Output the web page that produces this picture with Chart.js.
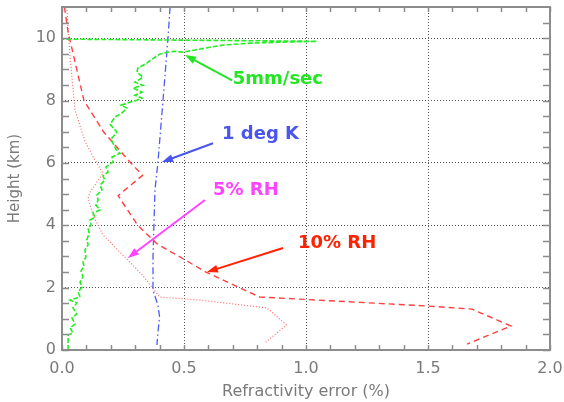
<!DOCTYPE html>
<html>
<head>
<meta charset="utf-8">
<script src="https://cdn.jsdelivr.net/npm/chart.js@4"></script>
<style>
  body { margin: 0; background: #fff; }
  #box { width: 564px; height: 402px; }
</style>
</head>
<body>
<div id="box"><canvas id="grafico" width="564" height="402"></canvas></div>
<script>
// 5mm/sec (verde)
const verde_x = [0.025, 0.025, 0.045, 0.033, 0.053, 0.041, 0.061, 0.045, 0.061, 0.033, 0.074, 0.066, 0.082, 0.074, 0.086, 0.078,
  0.090, 0.086, 0.098, 0.094, 0.107, 0.102, 0.111, 0.107, 0.119, 0.115, 0.135, 0.127, 0.156, 0.139, 0.148, 0.143,
  0.164, 0.156, 0.176, 0.168, 0.189, 0.180, 0.209, 0.205, 0.238, 0.221, 0.209, 0.201, 0.225, 0.197, 0.217, 0.246,
  0.266, 0.242, 0.279, 0.307, 0.328, 0.299, 0.328, 0.291, 0.332, 0.299, 0.332, 0.307, 0.311, 0.348, 0.361, 0.381,
  0.402, 0.430, 0.463, 0.496, 0.545, 0.607, 0.660, 0.770, 0.893, 1.045, 0.004]
const verde_y = [0.00, 0.48, 0.54, 0.71, 0.83, 1.03, 1.15, 1.35, 1.51, 1.60, 1.70, 1.86, 2.02, 2.18, 2.34, 2.53,
  2.69, 2.82, 2.98, 3.21, 3.37, 3.53, 3.75, 3.91, 4.01, 4.17, 4.26, 4.39, 4.49, 4.65, 4.81, 4.97,
  5.13, 5.29, 5.45, 5.58, 5.71, 5.87, 6.03, 6.19, 6.31, 6.44, 6.63, 6.76, 6.99, 7.24, 7.47, 7.60,
  7.76, 7.85, 7.95, 8.01, 8.08, 8.17, 8.27, 8.40, 8.49, 8.59, 8.75, 8.91, 9.04, 9.20, 9.29, 9.39,
  9.49, 9.55, 9.58, 9.55, 9.62, 9.71, 9.78, 9.84, 9.87, 9.90, 9.97]

// 10% RH (vermelho tracejado)
const rh10_x = [0.01, 0.025, 0.09, 0.17, 0.27, 0.33, 0.23, 0.31, 0.39, 0.48, 0.59, 0.81, 1.50, 1.68, 1.84, 1.66]
const rh10_y = [11.0, 10.2, 8.0, 7.0, 6.1, 5.6, 4.95, 4.0, 3.4, 3.0, 2.5, 1.7, 1.41, 1.31, 0.77, 0.19]

// 5% RH (vermelho pontilhado)
const rh5_x = [0.02, 0.025, 0.033, 0.053, 0.094, 0.127, 0.168, 0.115, 0.107, 0.127, 0.168, 0.25, 0.33, 0.40, 0.566, 0.84, 0.92, 0.83]
const rh5_y = [11.0, 10.3, 9.4, 7.7, 6.7, 6.2, 5.67, 5.06, 4.87, 4.33, 3.69, 3.04, 2.40, 1.70, 1.60, 1.35, 0.80, 0.22]

// 1 deg K (azul)
const temp_x = [0.443, 0.434, 0.414, 0.393, 0.381, 0.373, 0.373, 0.393, 0.40, 0.393, 0.389]
const temp_y = [11.0, 9.97, 8.01, 6.0, 5.13, 3.0, 1.92, 1.44, 1.06, 0.55, 0.16]

const x_ticks = [0, 0.5, 1.0, 1.5, 2.0]
const x_menores = [0.1, 0.2, 0.3, 0.4, 0.6, 0.7, 0.8, 0.9, 1.1, 1.2, 1.3, 1.4, 1.6, 1.7, 1.8, 1.9]
const y_ticks = [0, 2, 4, 6, 8, 10]
const y_menores = [0.5, 1, 1.5, 2.5, 3, 3.5, 4.5, 5, 5.5, 6.5, 7, 7.5, 8.5, 9, 9.5, 10.5]

// anotações: texto, posição do texto, ponta e cauda da seta (em unidades dos eixos)
const anotacoes = [
  { texto: '5mm/sec', cor: '#22e622', tx: 0.70, ty: 8.69, de: [0.697, 8.65], para: [0.504, 9.46] },
  { texto: '1 deg K', cor: '#4a55f0', tx: 0.656, ty: 6.92, de: [0.619, 6.63], para: [0.41, 6.03] },
  { texto: '5% RH', cor: '#ff44ff', tx: 0.619, ty: 5.13, de: [0.586, 4.81], para: [0.27, 2.95] },
  { texto: '10% RH', cor: '#ff2200', tx: 0.967, ty: 3.43, de: [0.906, 3.27], para: [0.594, 2.50] }
]

function pontos(xs, ys) {
  return xs.map((x, i) => ({ x: x, y: ys[i] }))
}

const moldura = {
  id: 'moldura',
  afterDatasetsDraw(chart) {
    const ctx = chart.ctx
    const a = chart.chartArea
    const sx = chart.scales.x
    const sy = chart.scales.y
    ctx.save()
    ctx.strokeStyle = '#8c8c8c'
    ctx.lineWidth = 2
    ctx.strokeRect(a.left, a.top, a.right - a.left, a.bottom - a.top)

    ctx.lineWidth = 1.5
    ctx.beginPath()
    x_menores.concat(x_ticks).forEach(v => {
      const px = Math.round(sx.getPixelForValue(v)) + 0.5
      ctx.moveTo(px, a.bottom); ctx.lineTo(px, a.bottom - 5)
      ctx.moveTo(px, a.top); ctx.lineTo(px, a.top + 5)
    })
    y_menores.concat(y_ticks).forEach(v => {
      const py = Math.round(sy.getPixelForValue(v)) + 0.5
      ctx.moveTo(a.left, py); ctx.lineTo(a.left + 7, py)
      ctx.moveTo(a.right, py); ctx.lineTo(a.right - 7, py)
    })
    ctx.stroke()

    anotacoes.forEach(n => {
      const x0 = sx.getPixelForValue(n.de[0]), y0 = sy.getPixelForValue(n.de[1])
      const x1 = sx.getPixelForValue(n.para[0]), y1 = sy.getPixelForValue(n.para[1])
      const ang = Math.atan2(y1 - y0, x1 - x0)
      ctx.strokeStyle = n.cor
      ctx.fillStyle = n.cor
      ctx.lineWidth = 2
      ctx.setLineDash([])
      ctx.beginPath()
      ctx.moveTo(x0, y0)
      ctx.lineTo(x1 - 8 * Math.cos(ang), y1 - 8 * Math.sin(ang))
      ctx.stroke()
      ctx.beginPath()
      ctx.moveTo(x1, y1)
      ctx.lineTo(x1 - 11 * Math.cos(ang) + 4 * Math.sin(ang), y1 - 11 * Math.sin(ang) - 4 * Math.cos(ang))
      ctx.lineTo(x1 - 11 * Math.cos(ang) - 4 * Math.sin(ang), y1 - 11 * Math.sin(ang) + 4 * Math.cos(ang))
      ctx.closePath()
      ctx.fill()

      ctx.font = 'bold 18px "DejaVu Sans"'
      ctx.textAlign = 'left'
      ctx.textBaseline = 'middle'
      ctx.fillText(n.texto, sx.getPixelForValue(n.tx), sy.getPixelForValue(n.ty))
    })
    ctx.restore()
  }
}

function corGrade(ctx) {
  const v = ctx.tick.value
  return (v === 0 || v === 2 && ctx.scale.id === 'x') ? 'rgba(0,0,0,0)' : '#555'
}

const config = {
  type: 'scatter',
  data: {
    datasets: [
      { label: '5mm/sec', data: pontos(verde_x, verde_y), borderColor: '#22ee22', borderWidth: 1.6, borderDash: [5, 2] },
      { label: '10% RH', data: pontos(rh10_x, rh10_y), borderColor: '#ff4040', borderWidth: 1.4, borderDash: [6, 4] },
      { label: '5% RH', data: pontos(rh5_x, rh5_y), borderColor: '#ff6a6a', borderWidth: 1.2, borderDash: [1, 2] },
      { label: '1 deg K', data: pontos(temp_x, temp_y), borderColor: '#4d5cf5', borderWidth: 1.3, borderDash: [7, 3, 1.5, 3] }
    ].map(d => Object.assign(d, { showLine: true, pointRadius: 0, fill: false, tension: 0 }))
  },
  options: {
    responsive: false,
    animation: false,
    layout: { padding: { top: 7, right: 14, left: 0, bottom: 0 } },
    plugins: { legend: { display: false }, tooltip: { enabled: false } },
    scales: {
      x: {
        type: 'linear', min: 0, max: 2,
        afterBuildTicks: s => { s.ticks = x_ticks.map(v => ({ value: v })) },
        afterFit: s => { s.height = 52; s.paddingLeft = 0; s.paddingRight = 0 },
        grid: { color: corGrade, drawTicks: false, lineWidth: 1 },
        border: { display: false, dash: [1, 2] },
        ticks: { padding: 9, maxRotation: 0, autoSkip: false, color: '#7a7a7a',
          font: { family: 'DejaVu Sans', size: 16 }, callback: v => v.toFixed(1) },
        title: { display: true, text: 'Refractivity error (%)', color: '#7a7a7a',
          font: { family: 'DejaVu Sans', size: 16 }, padding: { top: 1, bottom: 1 } }
      },
      y: {
        type: 'linear', min: 0, max: 11,
        afterBuildTicks: s => { s.ticks = y_ticks.map(v => ({ value: v })) },
        afterFit: s => { s.width = 62; s.paddingTop = 0; s.paddingBottom = 0 },
        grid: { color: corGrade, drawTicks: false, lineWidth: 1 },
        border: { display: false, dash: [1, 2] },
        ticks: { padding: 6, color: '#7a7a7a', font: { family: 'DejaVu Sans', size: 16 } },
        title: { display: true, text: 'Height (km)', color: '#7a7a7a',
          font: { family: 'DejaVu Sans', size: 15 }, padding: { top: 6, bottom: 6 } }
      }
    }
  },
  plugins: [moldura]
}

const grafico = new Chart(document.getElementById('grafico'), config)
</script>
</body>
</html>
